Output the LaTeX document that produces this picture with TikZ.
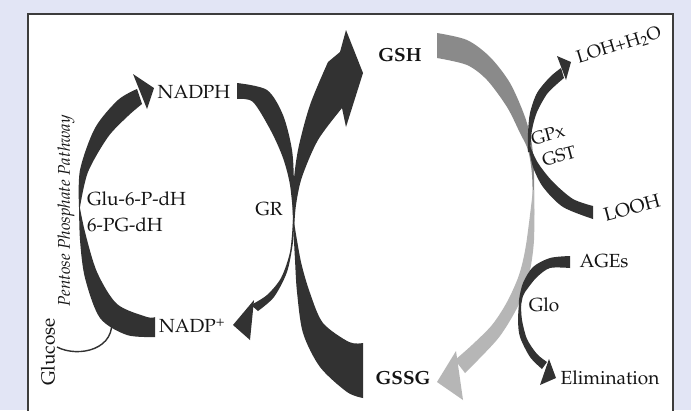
\documentclass[tikz,border=0pt]{standalone}
\usepackage[T1]{fontenc}
\usepackage{mathpazo}
\definecolor{bgl}{RGB}{226,229,245}
\definecolor{ink}{RGB}{50,50,50}
\definecolor{txt}{RGB}{20,20,20}
\definecolor{frameline}{RGB}{60,60,60}
\definecolor{greyA}{RGB}{138,138,138}
\definecolor{greyB}{RGB}{182,182,182}
\begin{document}
\begin{tikzpicture}[x=1pt,y=-1pt,
  lbl/.style={font=\fontsize{19}{22}\selectfont, inner sep=0pt, text=txt},
  blbl/.style={font=\fontsize{19}{22}\selectfont\bfseries, inner sep=0pt, text=txt}]
\useasboundingbox (0,0) rectangle (691,410);
\fill[bgl] (0,0) rectangle (691,410);
\clip (0,0) rectangle (691,410);
\filldraw[fill=white, draw=frameline, line width=1.3] (28,14) rectangle (673,440);

% ---- Pentose phosphate pathway (left loop)
\fill[ink] plot[smooth] coordinates {(155,337) (127,335) (100,318) (85,278) (80,240) (79,203)}
  -- plot[smooth] coordinates {(79,203) (85,232) (97,272) (117,304) (147,317) (155,317)} -- cycle;
\fill[ink] plot[smooth] coordinates {(79,207) (80,170) (95,128) (118,100) (137,89)}
  -- plot[smooth] coordinates {(142,104) (128,116) (108,137) (88,172) (80,207)} -- cycle;
\fill[ink] (154,88) -- (133,74) -- (147,109) -- cycle;

% ---- Glucose entry line
\draw[ink, line width=1.4] (57,347) .. controls (78,358) and (118,350) .. (111,316);

% ---- GR loop (middle)
\fill[ink] plot[smooth] coordinates {(237,83) (267,90) (283,115) (292,150) (294,185) (294,224)}
  -- plot[smooth] coordinates {(294,224) (290,185) (283,158) (271,131) (253,102) (237,99)} -- cycle;
\fill[ink] plot[smooth] coordinates {(294,220) (293,242) (287,272) (274,297) (258,311)}
  -- plot[smooth] coordinates {(251,305) (267,295) (281,278) (290,252) (293,220)} -- cycle;
\fill[ink] (233,325) -- (254,300) -- (250,340) -- cycle;

% ---- Big arrow GSSG -> GSH
\fill[ink] plot[smooth] coordinates {(293,222) (295,260) (297,292) (303,333) (320,367) (347,392) (363,398)}
  -- (363,343) -- plot[smooth] coordinates {(363,343) (349,342) (323,323) (310,293) (301,262) (294,222)} -- cycle;
\fill[ink] (346,30) -- (363,73) -- (346,127) -- (342,108)
  -- plot[smooth] coordinates {(342,108) (318,140) (302,177) (296,205) (294,230)}
  -- plot[smooth] coordinates {(293,230) (293,190) (298,150) (310,105) (328,62)}
  -- (340,52) -- cycle;

% ---- Grey arrow GSH -> GSSG
\fill[greyA] plot[smooth] coordinates {(437,33) (467,40) (490,57) (510,83) (525,117) (532,145) (534,175) (534,215)}
  -- plot[smooth] coordinates {(533,215) (532,175) (528,150) (520,133) (507,107) (487,80) (467,65) (437,58)} -- cycle;
\fill[greyB] plot[smooth] coordinates {(534,190) (534,240) (529,275) (518,306) (500,336) (478,360) (465,373)}
  -- plot[smooth] coordinates {(455,360) (472,345) (492,325) (507,302) (519,275) (526,245) (533,190)} -- cycle;
\fill[greyB] (437,382) -- (456,351) -- (463,400) -- cycle;

% ---- GPx / GST
\fill[ink] plot[smooth] coordinates {(528,152) (528,133) (530,113) (537,93) (550,77) (561,68)}
  -- plot[smooth] coordinates {(564,78) (557,84) (547,94) (537,112) (532,130) (530,152)} -- cycle;
\fill[ink] (571,62) -- (557,56) -- (566,80) -- cycle;
\fill[ink] plot[smooth] coordinates {(529,148) (533,167) (543,187) (563,207) (593,219)}
  -- (593,206) -- plot[smooth] coordinates {(593,206) (573,199) (553,182) (538,163) (530,146)} -- cycle;

% ---- Glo
\fill[ink] plot[smooth] coordinates {(570,256) (550,258) (533,267) (523,283) (519,300) (519,312)}
  -- plot[smooth] coordinates {(520,312) (523,296) (528,288) (537,277) (550,268) (570,268)} -- cycle;
\fill[ink] plot[smooth] coordinates {(519,305) (518,320) (520,337) (530,357) (542,369)}
  -- plot[smooth] coordinates {(547,362) (537,354) (527,339) (522,320) (521,305)} -- cycle;
\fill[ink] (556,378) -- (549,359) -- (540,385) -- cycle;

% ---- Labels
\node[lbl] (nadph) at (194,92) {NADPH};
\node[lbl] (nadp) at (192,326) {NADP\textsuperscript{+}};
\node[lbl, anchor=west] (g6p) at (87,199) {Glu-6-P-dH};
\node[lbl, anchor=west] (pg) at (87,225) {6-PG-dH};
\node[lbl] (gr) at (269,209) {GR};
\node[blbl] (gsh) at (400,55) {GSH};
\node[blbl] (gssg) at (403,378) {GSSG};
\node[lbl, rotate=17, font=\fontsize{18}{20}\selectfont] (loh) at (619,46) {LOH+H$_2$O};
\node[lbl, rotate=15, font=\fontsize{18}{20}\selectfont] (gpx) at (548,135) {GPx};
\node[lbl, rotate=15, font=\fontsize{18}{20}\selectfont] (gst) at (559,156) {GST};
\node[lbl, rotate=15] (looh) at (632,208) {LOOH};
\node[lbl] (ages) at (604,261) {AGEs};
\node[lbl] (glo) at (544,305) {Glo};
\node[lbl] (elim) at (610,378) {Elimination};
\node[lbl, rotate=90, font=\fontsize{17}{19}\selectfont\itshape] (ppp) at (66,211) {Pentose Phosphate Pathway};
\node[lbl, rotate=90] (glc) at (48,352) {Glucose};
\end{tikzpicture}
\end{document}
